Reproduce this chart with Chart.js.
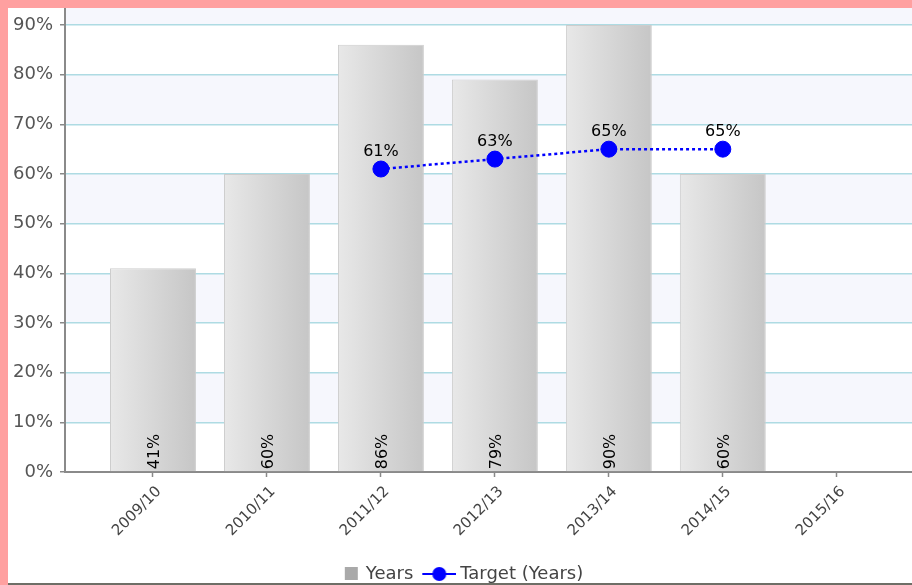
<!DOCTYPE html>
<html>
<head>
<meta charset="utf-8">
<script src="https://cdn.jsdelivr.net/npm/chart.js@4.4.1/dist/chart.umd.min.js"></script>
<style>
  html, body { margin: 0; padding: 0; background: #ffa0a0; overflow: hidden; }
  #wrap { position: absolute; left: 8px; top: 8px; width: 904px; height: 575px; background: #ffffff; overflow: hidden; }
  #bottomLine { position: absolute; left: 8px; top: 583px; width: 904px; height: 2px; background: #6e6e66; }
  canvas { display: block; }
</style>
</head>
<body>
<div id="wrap"><canvas id="c" width="904" height="575"></canvas></div>
<div id="bottomLine"></div>
<script>
// ---- data ----
const categories = ["2009/10", "2010/11", "2011/12", "2012/13", "2013/14", "2014/15", "2015/16"];
const yearsValues = [41, 60, 86, 79, 90, 60, null];
const targetValues = [null, null, 61, 63, 65, 65, null];
const yTickValues = [0, 10, 20, 30, 40, 50, 60, 70, 80, 90];
const seriesNames = ["Years", "Target (Years)"];

const barPoints = [];
yearsValues.forEach((v, i) => { if (v !== null) barPoints.push({ x: i, y: v }); });
const linePoints = [];
targetValues.forEach((v, i) => { if (v !== null) linePoints.push({ x: i, y: v }); });

// ---- legend images ----
function makeYearsIcon() {
  const c = document.createElement('canvas');
  c.width = 36; c.height = 18;
  const g = c.getContext('2d');
  g.fillStyle = '#a9a9a9';
  g.fillRect(22, 2, 13, 13);
  return c;
}
function makeTargetIcon() {
  const c = document.createElement('canvas');
  c.width = 42; c.height = 18;
  const g = c.getContext('2d');
  g.strokeStyle = '#0000ff';
  g.lineWidth = 2;
  g.beginPath(); g.moveTo(8, 9); g.lineTo(42, 9); g.stroke();
  g.fillStyle = '#0000ff';
  g.beginPath(); g.arc(25, 9, 7, 0, Math.PI * 2); g.fill();
  return c;
}
const legendIcons = [makeYearsIcon(), makeTargetIcon()];

// ---- plugins ----
const bandsPlugin = {
  id: 'bands',
  beforeDraw(chart) {
    const { ctx, chartArea } = chart;
    const y = chart.scales.y;
    ctx.save();
    ctx.fillStyle = '#f6f7fd';
    for (let v = 10; v < y.max; v += 20) {
      const top = y.getPixelForValue(Math.min(v + 10, y.max));
      const bot = y.getPixelForValue(v);
      ctx.fillRect(chartArea.left, top, chartArea.right - chartArea.left, bot - top);
    }
    ctx.restore();
  }
};

const legendShiftPlugin = {
  id: 'legendShift',
  afterLayout(chart) {
    const lg = chart.legend;
    if (!lg) return;
    lg.top += 10; lg.bottom += 10;
    lg.left -= 6; lg.right -= 6;
  }
};

const labelsPlugin = {
  id: 'valueLabels',
  afterDatasetsDraw(chart) {
    const { ctx } = chart;
    ctx.save();
    ctx.fillStyle = '#000000';
    ctx.font = '16px "DejaVu Sans"';
    const barMeta = chart.getDatasetMeta(0);
    barMeta.data.forEach((el, i) => {
      const raw = barPoints[i].y;
      ctx.save();
      ctx.translate(el.x + 2, el.base - 2);
      ctx.rotate(-Math.PI / 2);
      ctx.textAlign = 'left';
      ctx.textBaseline = 'middle';
      ctx.fillText(raw + '%', 0, 0);
      ctx.restore();
    });
    const lineMeta = chart.getDatasetMeta(1);
    lineMeta.data.forEach((el, i) => {
      ctx.textAlign = 'center';
      ctx.textBaseline = 'bottom';
      ctx.fillText(linePoints[i].y + '%', el.x, el.y - 9);
    });
    ctx.restore();
  }
};

const BAR_PCT = 0.754;

new Chart(document.getElementById('c'), {
  data: {
    datasets: [
      {
        type: 'bar',
        label: seriesNames[0],
        data: barPoints,
        categoryPercentage: 1,
        barPercentage: BAR_PCT,
        borderWidth: 1,
        borderColor: '#cdcdcd',
        backgroundColor: (ctx) => {
          const chart = ctx.chart;
          const xs = chart.scales.x;
          if (!xs || ctx.type !== 'data' || !chart.chartArea) return '#d8d8d8';
          const c = xs.getPixelForValue(ctx.raw.x);
          const hw = (xs.getPixelForValue(1) - xs.getPixelForValue(0)) * BAR_PCT / 2;
          const g = chart.ctx.createLinearGradient(c - hw, 0, c + hw, 0);
          g.addColorStop(0, '#e8e8e8');
          g.addColorStop(1, '#c6c6c6');
          return g;
        },
        order: 2
      },
      {
        type: 'line',
        label: seriesNames[1],
        data: linePoints,
        borderColor: '#0000ff',
        backgroundColor: '#0000ff',
        borderWidth: 2.5,
        borderDash: [3, 3],
        pointRadius: 8,
        pointBorderWidth: 1,
        pointBackgroundColor: '#0000ff',
        pointBorderColor: '#0000ff',
        fill: false,
        tension: 0,
        clip: false,
        order: 1
      }
    ]
  },
  options: {
    responsive: false,
    animation: false,
    layout: { padding: 0, autoPadding: false },
    plugins: {
      tooltip: { enabled: false },
      legend: {
        position: 'bottom',
        labels: {
          usePointStyle: true,
          pointStyleWidth: 32,
          padding: 6,
          color: '#444444',
          font: { family: 'DejaVu Sans', size: 18 },
          generateLabels(chart) {
            return chart.data.datasets.map((ds, i) => ({
              text: ds.label,
              fillStyle: '#000',
              strokeStyle: '#000',
              lineWidth: 0,
              pointStyle: legendIcons[i],
              hidden: false,
              datasetIndex: i,
              fontColor: '#444444'
            }));
          }
        }
      }
    },
    scales: {
      x: {
        type: 'linear',
        offset: false,
        min: -0.772,
        max: 6.66,
        afterBuildTicks(scale) {
          scale.ticks = categories.map((_, i) => ({ value: i }));
        },
        ticks: {
          autoSkip: false,
          minRotation: 45,
          maxRotation: 45,
          color: '#444444',
          font: { family: 'DejaVu Sans', size: 15 },
          padding: 6,
          labelOffset: 6,
          callback: (v) => categories[v] ?? ''
        },
        grid: { offset: false, drawOnChartArea: false, tickLength: 5, tickColor: '#888888', tickWidth: 1.5 },
        border: { display: true, color: '#8a8a8a', width: 2 },
        afterFit(scale) {
          scale.height = 77;
          scale.paddingLeft = 0; scale.paddingRight = 0;
        }
      },
      y: {
        min: 0,
        max: 93.42,
        afterBuildTicks(scale) {
          scale.ticks = yTickValues.map(v => ({ value: v }));
        },
        ticks: {
          color: '#555555',
          font: { family: 'DejaVu Sans', size: 18 },
          padding: 7,
          callback: (v) => v + '%'
        },
        grid: { color: '#aedbe3', lineWidth: 1.5, tickLength: 5, tickColor: '#888888', tickWidth: 1.5 },
        border: { display: true, color: '#8a8a8a', width: 2 },
        afterFit(scale) {
          scale.width = 57;
          scale.paddingTop = 0; scale.paddingBottom = 0;
        }
      }
    }
  },
  plugins: [bandsPlugin, legendShiftPlugin, labelsPlugin]
});
</script>
</body>
</html>
